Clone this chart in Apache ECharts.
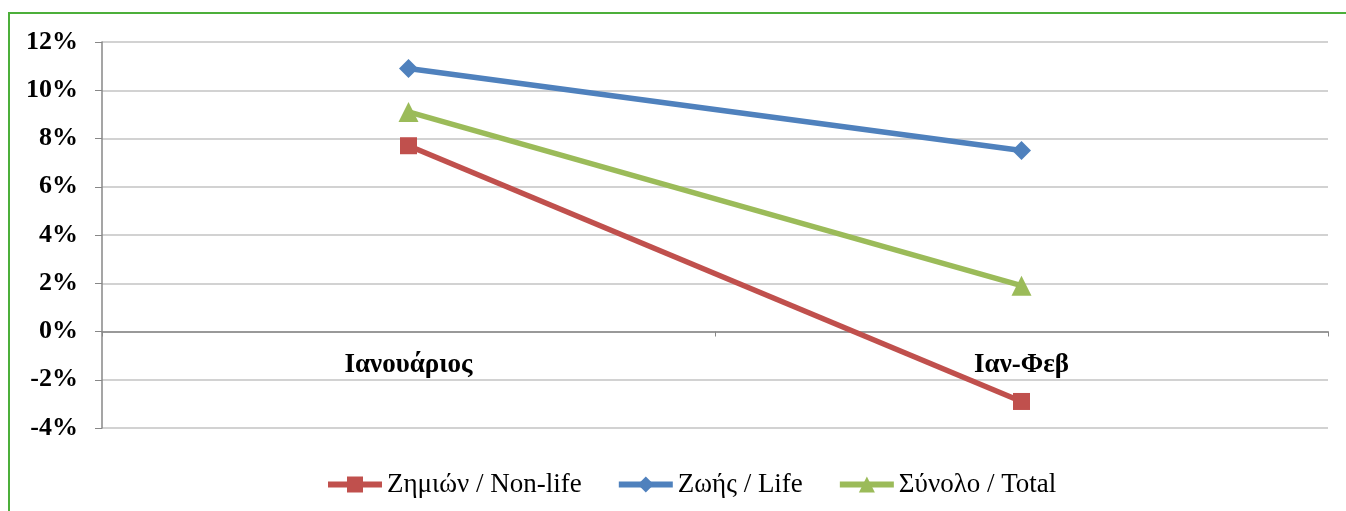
<!DOCTYPE html>
<html>
<head>
<meta charset="utf-8">
<script src="https://cdn.jsdelivr.net/npm/echarts@6/dist/echarts.min.js"></script>
<style>
html,body{margin:0;padding:0;background:#fff;overflow:hidden;}
#frame{position:absolute;left:8px;top:12px;width:1360px;height:520px;border:2px solid #4caf3a;box-sizing:border-box;}
#chart{position:absolute;left:0;top:0;width:1346px;height:511px;}
</style>
</head>
<body>
<div id="frame"></div>
<div id="chart"></div>
<script>
const categories = ['Ιανουάριος', 'Ιαν-Φεβ'];
const nonLife = [7.7, -2.9];
const life = [10.9, 7.5];
const total = [9.1, 1.9];
const seriesNames = ['Ζημιών / Non-life', 'Ζωής / Life', 'Σύνολο / Total'];

const chart = echarts.init(document.getElementById('chart'));
const font = 'Liberation Serif';
function mk(name, data, color, symbol, size) {
  return {
    name, type: 'line', data, symbol, symbolSize: size,
    lineStyle: {color, width: 5.5},
    itemStyle: {color},
    animation: false
  };
}
chart.setOption({
  animation: false,
  textStyle: {fontFamily: font},
  grid: {left: 102, right: 18, top: 42, bottom: 83},
  legend: {
    top: 466, left: 320,
    itemWidth: 54, itemHeight: 20, itemGap: 34,
    lineStyle: {width: 6},
    textStyle: {fontFamily: font, fontSize: 27, fontWeight: 'normal', color: '#000'},
    data: seriesNames
  },
  xAxis: {
    type: 'category', data: categories, boundaryGap: true,
    offset: -96.5,
    axisLine: {onZero: false, lineStyle: {color: '#878787', width: 1.5}},
    axisTick: {show: true, length: 5, lineStyle: {color: '#878787'}},
    axisLabel: {margin: 20, fontFamily: font, fontWeight: 'bold', fontSize: 27, color: '#000'}
  },
  yAxis: {
    type: 'value', min: -4, max: 12, interval: 2,
    axisLine: {show: true, lineStyle: {color: '#878787', width: 1.5}},
    axisTick: {show: true, length: 7, lineStyle: {color: '#878787'}},
    splitLine: {lineStyle: {color: '#c3c3c3', width: 1.5}},
    axisLabel: {margin: 24, formatter: v => v + '%', fontFamily: font, fontWeight: 'bold', fontSize: 26, color: '#000'}
  },
  series: [
    mk(seriesNames[0], nonLife, '#c0504d', 'rect', 17),
    mk(seriesNames[1], life, '#4f81bd', 'diamond', 19),
    mk(seriesNames[2], total, '#9bbb59', 'triangle', 20)
  ]
});
</script>
</body>
</html>
